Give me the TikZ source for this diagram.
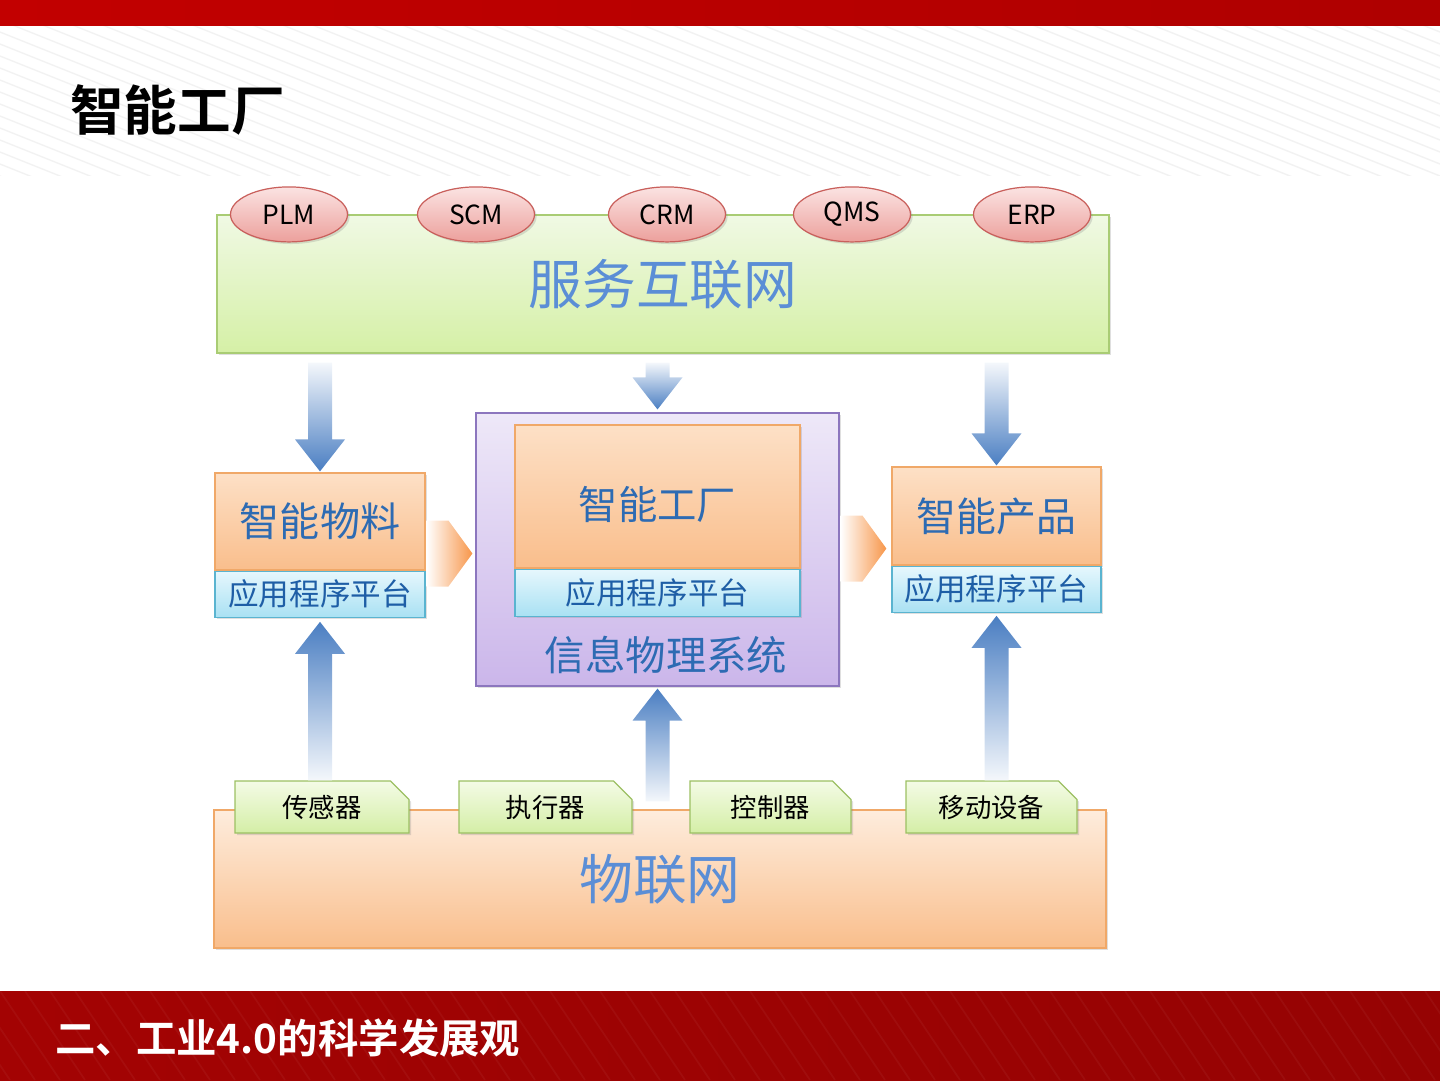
\documentclass[tikz,border=0pt]{standalone}
\usepackage{fontspec}
\setmainfont{Noto Sans CJK SC}[BoldFont={Noto Sans CJK SC Bold}]
\usetikzlibrary{calc}
\usetikzlibrary{shapes.geometric}
\usetikzlibrary{shapes.misc}
\usetikzlibrary{shadows}

\definecolor{topred}{HTML}{C20000}
\definecolor{botred}{HTML}{A30303}
\definecolor{greentop}{HTML}{F0F9E4}
\definecolor{greenbot}{HTML}{D5F0A6}
\definecolor{greenedge}{HTML}{A9CC74}
\definecolor{orangetop}{HTML}{FDE0C6}
\definecolor{orangebot}{HTML}{F9BE8C}
\definecolor{orangeedge}{HTML}{F0A868}
\definecolor{cyantop}{HTML}{E6F7FD}
\definecolor{cyanbot}{HTML}{A9E1F3}
\definecolor{cyanedge}{HTML}{5AB4D0}
\definecolor{purpletop}{HTML}{EEE8F8}
\definecolor{purplebot}{HTML}{CBB6EA}
\definecolor{purpleedge}{HTML}{8C76BE}
\definecolor{pinktop}{HTML}{FBE3E2}
\definecolor{pinkbot}{HTML}{ECA09C}
\definecolor{pinkedge}{HTML}{C9605C}
\definecolor{tabtop}{HTML}{F4FBE6}
\definecolor{tabbot}{HTML}{D4EEA6}
\definecolor{tabedge}{HTML}{9CC063}
\definecolor{arrowblue}{HTML}{4A7EC2}
\definecolor{orangearr}{HTML}{F7964A}
\definecolor{bigblue}{HTML}{5B8ED6}
\definecolor{midblue}{HTML}{2D6BB3}
\definecolor{appblue}{HTML}{1E5EA6}

\begin{document}
\begin{tikzpicture}[x=0.02cm,y=-0.02cm,
  every node/.style={inner sep=0pt},
  box/.style={draw,line width=0.7pt,drop shadow={opacity=.25,shadow xshift=1.2pt,shadow yshift=-1.2pt}},
  greenlayer/.style={box,draw=greenedge,top color=greentop,bottom color=greenbot},
  orangebox/.style={box,draw=orangeedge,top color=orangetop,bottom color=orangebot},
  appbar/.style={box,draw=cyanedge,top color=cyantop,bottom color=cyanbot,text=appblue,font=\fontsize{17.4}{20}\selectfont},
  pill/.style={ellipse,box,draw=pinkedge,top color=pinktop,bottom color=pinkbot,minimum width=2.34cm,minimum height=1.1cm,font=\fontsize{15}{18}\selectfont},
  tab/.style={chamfered rectangle,chamfered rectangle corners=north east,chamfered rectangle xsep=0.5cm,box,draw=tabedge,top color=tabtop,bottom color=tabbot,minimum height=1.04cm,font=\fontsize{15}{18}\selectfont},
  downarr/.style={top color=arrowblue!6,middle color=arrowblue!60,bottom color=arrowblue},
  uparr/.style={top color=arrowblue,middle color=arrowblue!60,bottom color=arrowblue!6},
  sidearr/.style={left color=white,right color=orangearr}]
  \useasboundingbox (0,0) rectangle (1440,1080);

  % header and footer bars
  \begin{scope}
    \clip (0,20) rectangle (1440,175);
    \foreach \x in {-600,-570,...,1440}
      \draw[black!5,line width=0.8pt] (\x,20) -- ++(400,160);
  \end{scope}
  \shade[left color=topred,right color=topred!90!black] (0,0) rectangle (1440,25);
  \node[anchor=west,font=\fontsize{30.5}{35}\selectfont\bfseries] (title) at (70,110) {智能工厂};
  \shade[left color=botred,right color=botred!92!black] (0,991) rectangle (1440,1080);
  \begin{scope}
    \clip (0,991) rectangle (1440,1080);
    \foreach \x in {-200,-175,...,1440}
      \draw[white,opacity=.045,line width=1pt] (\x,991) -- ++(60,89);
  \end{scope}
  \node[anchor=west,text=white,font=\fontsize{23}{27}\selectfont\bfseries] (footer) at (55,1038) {二、工业4.0的科学发展观};

  % service layer
  \node[greenlayer,minimum width=17.84cm,minimum height=2.76cm,text=bigblue,font=\fontsize{30.6}{36}\selectfont] (svc) at (663,284) {服务互联网};
  \foreach \name/\x/\t in {plm/289/PLM, scm/476/SCM, crm/667/CRM, qms/852/QMS, erp/1032/ERP}
    \node[pill] (\name) at (\x,0 |- svc.north) {\t};

  % middle row
  \node[orangebox,minimum width=4.2cm,minimum height=1.94cm,text=midblue,font=\fontsize{22.8}{27}\selectfont] (mat) at (320,521.5) {智能物料};
  \node[appbar,minimum width=4.2cm,minimum height=0.92cm,anchor=north] (matapp) at (mat.south) {应用程序平台};

  \node[box,draw=purpleedge,top color=purpletop,bottom color=purplebot,minimum width=7.26cm,minimum height=5.46cm] (cps) at (657.5,549.5) {};
  \node[orangebox,minimum width=5.7cm,minimum height=2.86cm,text height=29pt,text depth=2.7pt,text=midblue,font=\fontsize{22.4}{27}\selectfont] (fac) at (657.5,496.5) {智能工厂};
  \node[appbar,minimum width=5.7cm,minimum height=0.94cm,anchor=north] (facapp) at (fac.south) {应用程序平台};
  \node[text=midblue,font=\fontsize{23}{27}\selectfont] (cpslabel) at (666,655) {信息物理系统};

  \node[orangebox,minimum width=4.18cm,minimum height=1.96cm,text=midblue,font=\fontsize{22.7}{27}\selectfont] (prd) at (996.5,516) {智能产品};
  \node[appbar,minimum width=4.18cm,minimum height=0.92cm,anchor=north] (prdapp) at (prd.south) {应用程序平台};

  % things layer
  \node[box,draw=orangeedge,top color=orangetop!60!white,bottom color=orangebot,minimum width=17.84cm,minimum height=2.76cm,text=bigblue,font=\fontsize{30.6}{36}\selectfont] (iot) at (660,879) {物联网};
  \foreach \name/\x/\w/\t in {sen/322/3.48/传感器, act/545.5/3.46/执行器, ctl/770.5/3.22/控制器, mob/991.5/3.42/移动设备}
    \node[tab,minimum width=\w cm] (\name) at (\x,807) {\t};

  % block arrows
  \coordinate (d1) at ($(svc.south -| mat.north)+(0,9)$);
  \coordinate (d2) at ($(svc.south -| cps.north)+(0,9)$);
  \coordinate (d3) at ($(svc.south -| prd.north)+(0,9)$);
  \coordinate (t1) at ($(mat.north)+(0,-1)$);
  \coordinate (t2) at ($(cps.north)+(0,-3)$);
  \coordinate (t3) at ($(prd.north)+(0,-1)$);
  \foreach \a/\b in {d1/t1, d2/t2, d3/t3}
    \shade[downarr] ($(\a)+(-12,0)$) -- ($(\b)+(-12,-32)$) -- ($(\b)+(-25,-32)$) -- (\b)
      -- ($(\b)+(25,-32)$) -- ($(\b)+(12,-32)$) -- ($(\a)+(12,0)$) -- cycle;

  \coordinate (u1) at (matapp.south |- sen.north);
  \coordinate (u2) at ($(cps.south |- iot.north)+(0,-8)$);
  \coordinate (u3) at (prdapp.south |- mob.north);
  \coordinate (h1) at ($(matapp.south)+(0,4)$);
  \coordinate (h2) at ($(cps.south)+(0,2)$);
  \coordinate (h3) at ($(prdapp.south)+(0,3)$);
  \foreach \a/\b in {u1/h1, u2/h2, u3/h3}
    \shade[uparr] ($(\a)+(-12,0)$) -- ($(\b)+(-12,32)$) -- ($(\b)+(-25,32)$) -- (\b)
      -- ($(\b)+(25,32)$) -- ($(\b)+(12,32)$) -- ($(\a)+(12,0)$) -- cycle;

  \coordinate (s1) at ($(cps.west)+(-3,4)$);
  \coordinate (s2) at ($(cps.east -| prd.west)+(-5,-1)$);
  \foreach \t in {s1,s2}
    \shade[sidearr] ($(\t)+(-46,-33)$) -- ($(\t)+(-24,-33)$) -- (\t) -- ($(\t)+(-24,33)$)
      -- ($(\t)+(-46,33)$) -- cycle;
\end{tikzpicture}
\end{document}
